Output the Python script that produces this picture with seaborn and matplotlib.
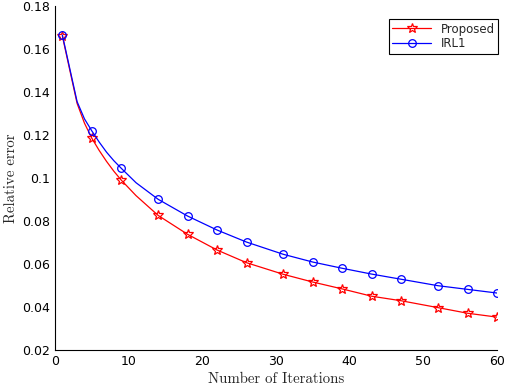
import matplotlib
matplotlib.use("Agg")
import matplotlib.pyplot as plt
import numpy as np
import pandas as pd
import seaborn as sb

iterations = [1, 2, 3, 4, 5, 6, 7, 8, 9, 11, 14, 18, 22, 26, 31, 35, 39, 43, 47, 52, 56, 60]
marker_iters = [1, 5, 9, 14, 18, 22, 26, 31, 35, 39, 43, 47, 52, 56, 60]

proposed = [0.1660, 0.1503, 0.1347, 0.1255, 0.1185, 0.1128, 0.1077, 0.1031, 0.0990,
            0.0918, 0.0826, 0.0738, 0.0665, 0.0606, 0.0552, 0.0516, 0.0484, 0.0450,
            0.0429, 0.0397, 0.0371, 0.0353]
irl1 = [0.1665, 0.1510, 0.1355, 0.1275, 0.1219, 0.1167, 0.1120, 0.1080, 0.1045,
        0.0978, 0.0901, 0.0823, 0.0758, 0.0702, 0.0645, 0.0609, 0.0580, 0.0553,
        0.0529, 0.0499, 0.0482, 0.0465]

df = pd.DataFrame({"iter": iterations, "Proposed": proposed, "IRL1": irl1})
marks = [iterations.index(i) for i in marker_iters]

sb.set_style("white")
plt.rcParams["font.family"] = ["DejaVu Sans"]

fig = plt.figure(figsize=(5.06, 3.88), dpi=100)
ax = fig.add_axes([55 / 506, 1 - 350 / 388, 442 / 506, 344 / 388])

sb.lineplot(data=df, x="iter", y="Proposed", ax=ax, color="red", lw=0.9,
            marker="*", ms=7.5, mfc="none", mec="red", mew=0.9,
            markevery=marks, label="Proposed")
sb.lineplot(data=df, x="iter", y="IRL1", ax=ax, color="blue", lw=0.9,
            marker="o", ms=5.5, mfc="none", mec="blue", mew=0.9,
            markevery=marks, label="IRL1")

ax.set(xlim=(0, 60), ylim=(0.02, 0.18))
ax.set_xticks(np.arange(0, 61, 10))
ax.set_yticks([0.02, 0.04, 0.06, 0.08, 0.1, 0.12, 0.14, 0.16, 0.18])
ax.set_yticklabels(["0.02", "0.04", "0.06", "0.08", "0.1", "0.12", "0.14", "0.16", "0.18"])
ax.tick_params(direction="in", length=3, width=0.8, labelsize=9, colors="black")
for side in ["top", "right"]:
    ax.spines[side].set_visible(False)
for side in ["left", "bottom"]:
    ax.spines[side].set_color("black")
    ax.spines[side].set_linewidth(0.8)

ax.set_xlabel("Number of Iterations", fontfamily="cmr10", fontsize=10.7, labelpad=3)
ax.set_ylabel("Relative error", fontfamily="cmr10", fontsize=10.7, labelpad=3)

leg = ax.legend(loc="upper right", bbox_to_anchor=(1.003, 0.962), borderaxespad=0,
                fontsize=8.5, frameon=True, fancybox=False, edgecolor="black",
                framealpha=1, handlelength=3.3, borderpad=0.3, labelspacing=0.15)
leg.get_frame().set_linewidth(0.8)

fig.savefig("out.png", dpi=100)
